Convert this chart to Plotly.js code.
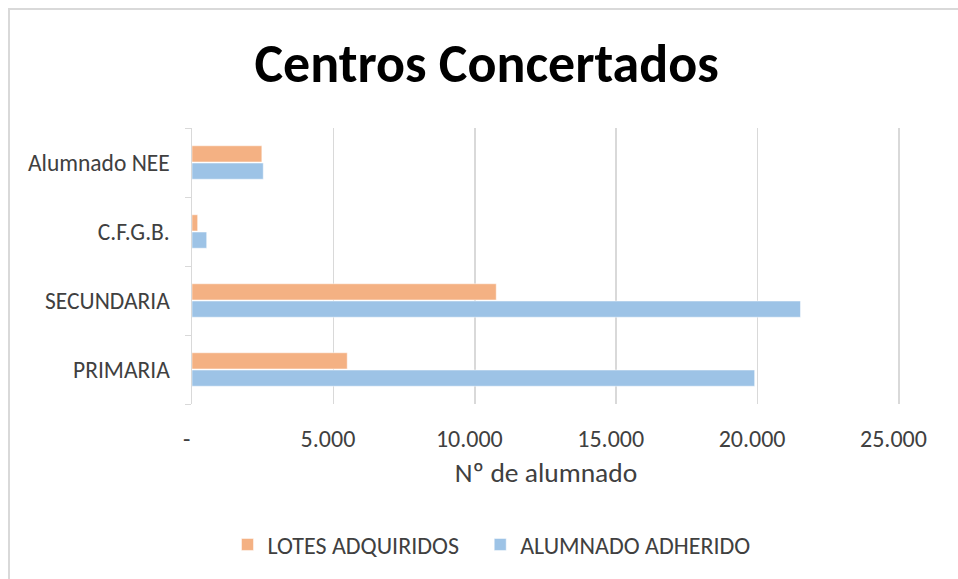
<!DOCTYPE html>
<html>
<head>
<meta charset="utf-8">
<script src="https://cdn.plot.ly/plotly-3.0.1.min.js"></script>
<style>
  html, body { margin: 0; padding: 0; background: #ffffff; }
  #frame { position: absolute; left: 8px; top: 8px; width: 1000px; height: 700px; border-left: 2px solid #d9d9d9; border-top: 2px solid #d9d9d9; box-sizing: border-box; }
  #chart { position: absolute; left: 0; top: 0; width: 958px; height: 579px; }
</style>
</head>
<body>
<div id="frame"></div>
<div id="chart"></div>
<script>
const categories = ["PRIMARIA", "SECUNDARIA", "C.F.G.B.", "Alumnado NEE"];
const lotesAdquiridos = [5490, 10760, 200, 2470];
const alumnadoAdherido = [19900, 21520, 520, 2520];
const xTickVals = [0, 5000, 10000, 15000, 20000, 25000];
const xTickText = ["-", "5.000", "10.000", "15.000", "20.000", "25.000"];
const seriesNames = ["LOTES ADQUIRIDOS", "ALUMNADO ADHERIDO"];

const FONT = "Carlito, Calibri, Lato, sans-serif";

const data = [
  {
    type: "bar", orientation: "h", name: seriesNames[1],
    y: categories, x: alumnadoAdherido,
    marker: { color: "#9dc3e6", line: { color: "#ffffff", width: 0.5 } },
    legendrank: 2, hoverinfo: "x+name"
  },
  {
    type: "bar", orientation: "h", name: seriesNames[0] + "\u00a0\u00a0\u00a0",
    y: categories, x: lotesAdquiridos,
    marker: { color: "#f4b183", line: { color: "#ffffff", width: 0.5 } },
    legendrank: 1, hoverinfo: "x+name"
  }
];

const layout = {
  width: 958, height: 579,
  paper_bgcolor: "rgba(0,0,0,0)", plot_bgcolor: "rgba(0,0,0,0)",
  margin: { l: 192, r: 58, t: 128, b: 175 },
  font: { family: FONT, color: "#404040", size: 16 },
  title: {
    text: "<b>Centros Concertados</b>",
    font: { family: FONT, size: 54, color: "#000000" },
    x: 0.508, xref: "container", xanchor: "center",
    y: 0.891, yref: "container", yanchor: "middle"
  },
  barmode: "group", bargap: 0.5, bargroupgap: 0.06,
  xaxis: {
    range: [0, 25040], tickvals: xTickVals,
    ticktext: xTickText.map(t => t + "\u00a0\u00a0"),
    showgrid: true, gridcolor: "#d9d9d9", gridwidth: 1.5,
    zeroline: false, showline: false, ticks: "",
    ticklabelstandoff: 18,
    tickfont: { family: FONT, size: 24, color: "#404040" },
    title: { text: "Nº de alumnado", font: { family: FONT, size: 27.5, color: "#404040" }, standoff: 10 },
    fixedrange: true
  },
  yaxis: {
    type: "category", categoryorder: "array", categoryarray: categories,
    showline: true, linecolor: "#d9d9d9", linewidth: 1.5,
    ticks: "outside", tickson: "boundaries", ticklen: 6, tickcolor: "#d9d9d9", tickwidth: 1,
    ticklabelstandoff: 16,
    tickfont: { family: FONT, size: 23.5, color: "#404040" },
    showgrid: false, fixedrange: true
  },
  showlegend: true,
  legend: {
    orientation: "h", x: 0.423, xanchor: "center", y: 0.059, yref: "container", yanchor: "middle",
    font: { family: FONT, size: 24, color: "#404040" },
    traceorder: "normal", itemwidth: 30
  }
};

Plotly.newPlot("chart", data, layout, { displayModeBar: false, staticPlot: true });
</script>
</body>
</html>
